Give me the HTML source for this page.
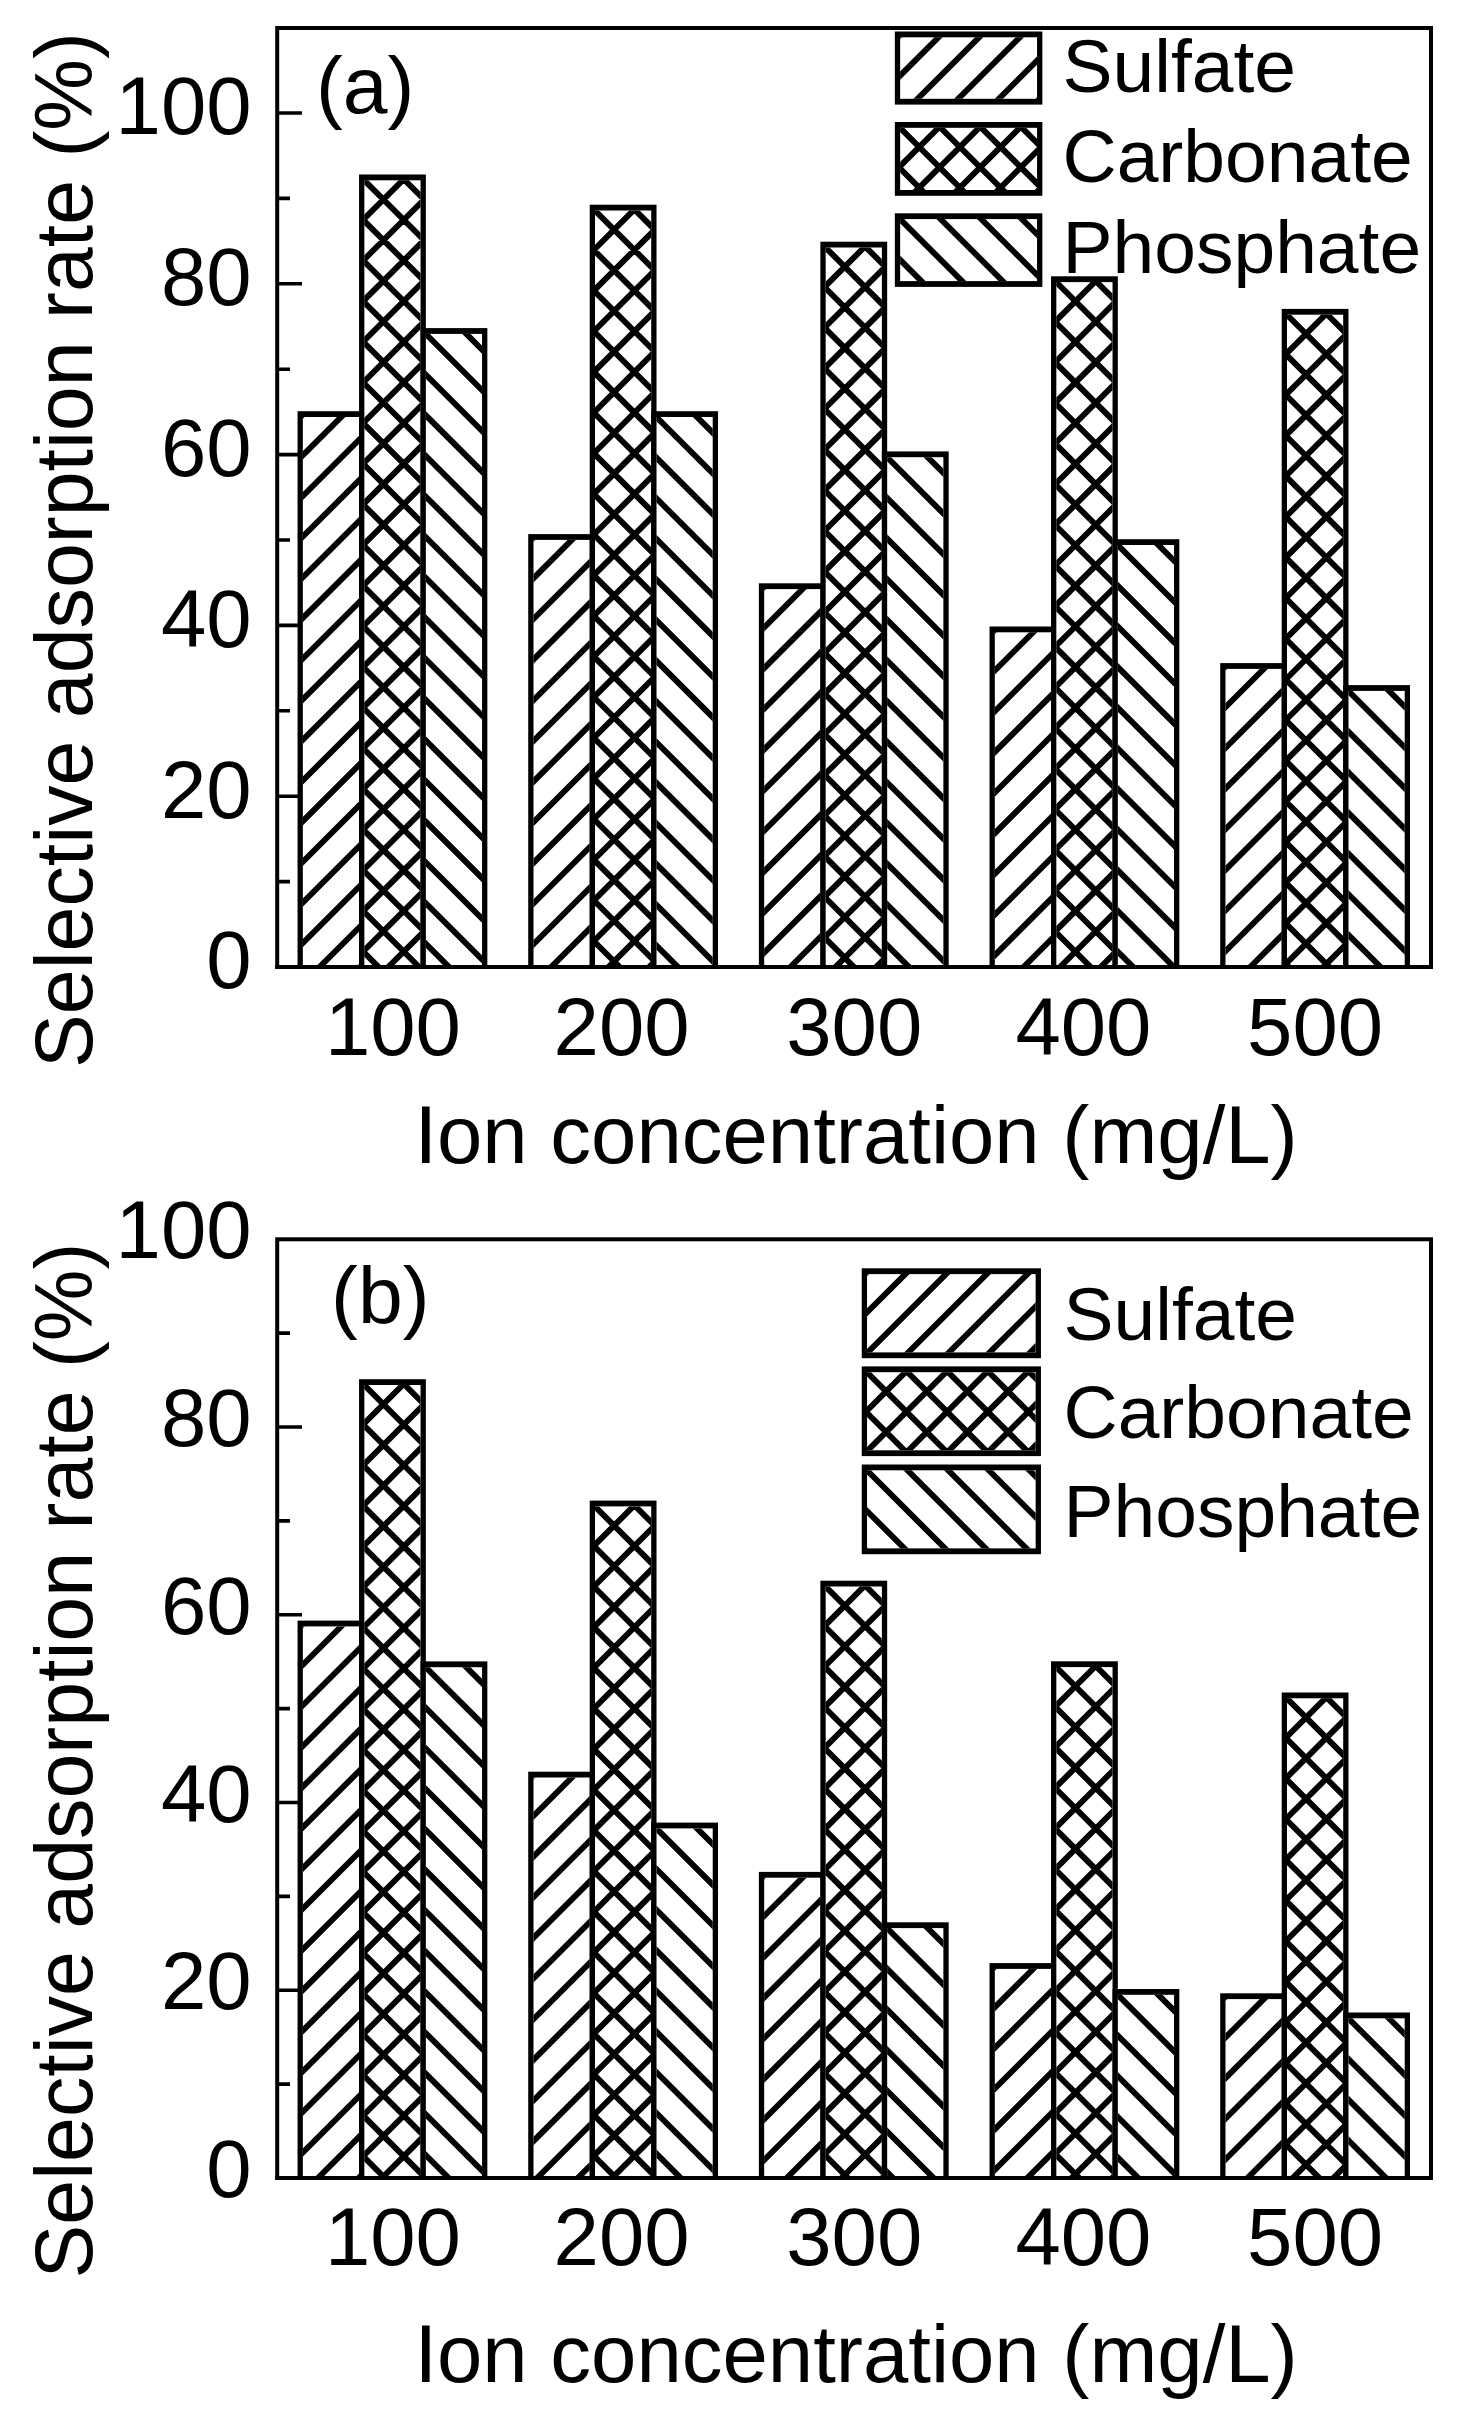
<!DOCTYPE html>
<html lang="en">
<head>
<meta charset="utf-8">
<title>Selective adsorption rate vs ion concentration</title>
<style>
html,body{margin:0;padding:0;background:#fff;}
body{width:1459px;height:2423px;overflow:hidden;}
svg{display:block;}
svg text{font-family:"Liberation Sans", sans-serif;fill:#000;}
</style>
</head>
<body>
<svg width="1459" height="2423" viewBox="0 0 1459 2423">
<rect x="0" y="0" width="1459" height="2423" fill="#fff"/>
<rect x="277.2" y="28" width="1153.8" height="939" fill="none" stroke="#000" stroke-width="4"/>
<path d="M277.2 881.6H290M277.2 796.2H302M277.2 710.8H290M277.2 625.4H302M277.2 540H290M277.2 454.6H302M277.2 369.2H290M277.2 283.8H302M277.2 198.4H290M277.2 113H302" fill="none" stroke="#000" stroke-width="3.6"/>
<text x="251.6" y="988.4" font-size="81.5" text-anchor="end">0</text>
<text x="251.6" y="817.6" font-size="81.5" text-anchor="end">20</text>
<text x="251.6" y="646.8" font-size="81.5" text-anchor="end">40</text>
<text x="251.6" y="476" font-size="81.5" text-anchor="end">60</text>
<text x="251.6" y="305.2" font-size="81.5" text-anchor="end">80</text>
<text x="251.6" y="134.4" font-size="81.5" text-anchor="end">100</text>
<clipPath id="c1"><rect x="302.85" y="417" width="56.2" height="548"/></clipPath>
<rect x="297.55" y="411.2" width="66.8" height="557.8" fill="#000"/>
<rect x="302.85" y="417" width="56.2" height="548" fill="#fff"/>
<path clip-path="url(#c1)" d="M294.2 423.3L367.7 349.8M294.2 463.95L367.7 390.45M294.2 504.6L367.7 431.1M294.2 545.25L367.7 471.75M294.2 585.9L367.7 512.4M294.2 626.55L367.7 553.05M294.2 667.2L367.7 593.7M294.2 707.85L367.7 634.35M294.2 748.5L367.7 675M294.2 789.15L367.7 715.65M294.2 829.8L367.7 756.3M294.2 870.45L367.7 796.95M294.2 911.1L367.7 837.6M294.2 951.75L367.7 878.25M294.2 992.4L367.7 918.9M294.2 1033.05L367.7 959.55" fill="none" stroke="#000" stroke-width="5.9"/>
<clipPath id="c2"><rect x="364.35" y="180.3" width="56.2" height="784.7"/></clipPath>
<rect x="359.05" y="174.5" width="66.8" height="794.5" fill="#000"/>
<rect x="364.35" y="180.3" width="56.2" height="784.7" fill="#fff"/>
<path clip-path="url(#c2)" d="M355.7 186.6L429.2 113.1M355.7 227.25L429.2 153.75M355.7 267.9L429.2 194.4M355.7 308.55L429.2 235.05M355.7 349.2L429.2 275.7M355.7 389.85L429.2 316.35M355.7 430.5L429.2 357M355.7 471.15L429.2 397.65M355.7 511.8L429.2 438.3M355.7 552.45L429.2 478.95M355.7 593.1L429.2 519.6M355.7 633.75L429.2 560.25M355.7 674.4L429.2 600.9M355.7 715.05L429.2 641.55M355.7 755.7L429.2 682.2M355.7 796.35L429.2 722.85M355.7 837L429.2 763.5M355.7 877.65L429.2 804.15M355.7 918.3L429.2 844.8M355.7 958.95L429.2 885.45M355.7 999.6L429.2 926.1M355.7 1040.25L429.2 966.75M355.7 944.15L429.2 1017.65M355.7 903.5L429.2 977M355.7 862.85L429.2 936.35M355.7 822.2L429.2 895.7M355.7 781.55L429.2 855.05M355.7 740.9L429.2 814.4M355.7 700.25L429.2 773.75M355.7 659.6L429.2 733.1M355.7 618.95L429.2 692.45M355.7 578.3L429.2 651.8M355.7 537.65L429.2 611.15M355.7 497L429.2 570.5M355.7 456.35L429.2 529.85M355.7 415.7L429.2 489.2M355.7 375.05L429.2 448.55M355.7 334.4L429.2 407.9M355.7 293.75L429.2 367.25M355.7 253.1L429.2 326.6M355.7 212.45L429.2 285.95M355.7 171.8L429.2 245.3M355.7 131.15L429.2 204.65" fill="none" stroke="#000" stroke-width="5.9"/>
<clipPath id="c3"><rect x="425.85" y="333.9" width="56.2" height="631.1"/></clipPath>
<rect x="420.55" y="328.1" width="66.8" height="640.9" fill="#000"/>
<rect x="425.85" y="333.9" width="56.2" height="631.1" fill="#fff"/>
<path clip-path="url(#c3)" d="M417.2 935.15L490.7 1008.65M417.2 894.5L490.7 968M417.2 853.85L490.7 927.35M417.2 813.2L490.7 886.7M417.2 772.55L490.7 846.05M417.2 731.9L490.7 805.4M417.2 691.25L490.7 764.75M417.2 650.6L490.7 724.1M417.2 609.95L490.7 683.45M417.2 569.3L490.7 642.8M417.2 528.65L490.7 602.15M417.2 488L490.7 561.5M417.2 447.35L490.7 520.85M417.2 406.7L490.7 480.2M417.2 366.05L490.7 439.55M417.2 325.4L490.7 398.9M417.2 284.75L490.7 358.25" fill="none" stroke="#000" stroke-width="5.9"/>
<clipPath id="c4"><rect x="533.51" y="539.9" width="56.2" height="425.1"/></clipPath>
<rect x="528.21" y="534.1" width="66.8" height="434.9" fill="#000"/>
<rect x="533.51" y="539.9" width="56.2" height="425.1" fill="#fff"/>
<path clip-path="url(#c4)" d="M524.86 546.2L598.36 472.7M524.86 586.85L598.36 513.35M524.86 627.5L598.36 554M524.86 668.15L598.36 594.65M524.86 708.8L598.36 635.3M524.86 749.45L598.36 675.95M524.86 790.1L598.36 716.6M524.86 830.75L598.36 757.25M524.86 871.4L598.36 797.9M524.86 912.05L598.36 838.55M524.86 952.7L598.36 879.2M524.86 993.35L598.36 919.85M524.86 1034L598.36 960.5" fill="none" stroke="#000" stroke-width="5.9"/>
<clipPath id="c5"><rect x="595.01" y="210.5" width="56.2" height="754.5"/></clipPath>
<rect x="589.71" y="204.7" width="66.8" height="764.3" fill="#000"/>
<rect x="595.01" y="210.5" width="56.2" height="754.5" fill="#fff"/>
<path clip-path="url(#c5)" d="M586.36 216.8L659.86 143.3M586.36 257.45L659.86 183.95M586.36 298.1L659.86 224.6M586.36 338.75L659.86 265.25M586.36 379.4L659.86 305.9M586.36 420.05L659.86 346.55M586.36 460.7L659.86 387.2M586.36 501.35L659.86 427.85M586.36 542L659.86 468.5M586.36 582.65L659.86 509.15M586.36 623.3L659.86 549.8M586.36 663.95L659.86 590.45M586.36 704.6L659.86 631.1M586.36 745.25L659.86 671.75M586.36 785.9L659.86 712.4M586.36 826.55L659.86 753.05M586.36 867.2L659.86 793.7M586.36 907.85L659.86 834.35M586.36 948.5L659.86 875M586.36 989.15L659.86 915.65M586.36 1029.8L659.86 956.3M586.36 933.7L659.86 1007.2M586.36 893.05L659.86 966.55M586.36 852.4L659.86 925.9M586.36 811.75L659.86 885.25M586.36 771.1L659.86 844.6M586.36 730.45L659.86 803.95M586.36 689.8L659.86 763.3M586.36 649.15L659.86 722.65M586.36 608.5L659.86 682M586.36 567.85L659.86 641.35M586.36 527.2L659.86 600.7M586.36 486.55L659.86 560.05M586.36 445.9L659.86 519.4M586.36 405.25L659.86 478.75M586.36 364.6L659.86 438.1M586.36 323.95L659.86 397.45M586.36 283.3L659.86 356.8M586.36 242.65L659.86 316.15M586.36 202L659.86 275.5M586.36 161.35L659.86 234.85" fill="none" stroke="#000" stroke-width="5.9"/>
<clipPath id="c6"><rect x="656.51" y="417" width="56.2" height="548"/></clipPath>
<rect x="651.21" y="411.2" width="66.8" height="557.8" fill="#000"/>
<rect x="656.51" y="417" width="56.2" height="548" fill="#fff"/>
<path clip-path="url(#c6)" d="M647.86 936.95L721.36 1010.45M647.86 896.3L721.36 969.8M647.86 855.65L721.36 929.15M647.86 815L721.36 888.5M647.86 774.35L721.36 847.85M647.86 733.7L721.36 807.2M647.86 693.05L721.36 766.55M647.86 652.4L721.36 725.9M647.86 611.75L721.36 685.25M647.86 571.1L721.36 644.6M647.86 530.45L721.36 603.95M647.86 489.8L721.36 563.3M647.86 449.15L721.36 522.65M647.86 408.5L721.36 482M647.86 367.85L721.36 441.35" fill="none" stroke="#000" stroke-width="5.9"/>
<clipPath id="c7"><rect x="764.17" y="589.1" width="56.2" height="375.9"/></clipPath>
<rect x="758.87" y="583.3" width="66.8" height="385.7" fill="#000"/>
<rect x="764.17" y="589.1" width="56.2" height="375.9" fill="#fff"/>
<path clip-path="url(#c7)" d="M755.52 595.4L829.02 521.9M755.52 636.05L829.02 562.55M755.52 676.7L829.02 603.2M755.52 717.35L829.02 643.85M755.52 758L829.02 684.5M755.52 798.65L829.02 725.15M755.52 839.3L829.02 765.8M755.52 879.95L829.02 806.45M755.52 920.6L829.02 847.1M755.52 961.25L829.02 887.75M755.52 1001.9L829.02 928.4M755.52 1042.55L829.02 969.05" fill="none" stroke="#000" stroke-width="5.9"/>
<clipPath id="c8"><rect x="825.67" y="247.5" width="56.2" height="717.5"/></clipPath>
<rect x="820.37" y="241.7" width="66.8" height="727.3" fill="#000"/>
<rect x="825.67" y="247.5" width="56.2" height="717.5" fill="#fff"/>
<path clip-path="url(#c8)" d="M817.02 253.8L890.52 180.3M817.02 294.45L890.52 220.95M817.02 335.1L890.52 261.6M817.02 375.75L890.52 302.25M817.02 416.4L890.52 342.9M817.02 457.05L890.52 383.55M817.02 497.7L890.52 424.2M817.02 538.35L890.52 464.85M817.02 579L890.52 505.5M817.02 619.65L890.52 546.15M817.02 660.3L890.52 586.8M817.02 700.95L890.52 627.45M817.02 741.6L890.52 668.1M817.02 782.25L890.52 708.75M817.02 822.9L890.52 749.4M817.02 863.55L890.52 790.05M817.02 904.2L890.52 830.7M817.02 944.85L890.52 871.35M817.02 985.5L890.52 912M817.02 1026.15L890.52 952.65M817.02 970.7L890.52 1044.2M817.02 930.05L890.52 1003.55M817.02 889.4L890.52 962.9M817.02 848.75L890.52 922.25M817.02 808.1L890.52 881.6M817.02 767.45L890.52 840.95M817.02 726.8L890.52 800.3M817.02 686.15L890.52 759.65M817.02 645.5L890.52 719M817.02 604.85L890.52 678.35M817.02 564.2L890.52 637.7M817.02 523.55L890.52 597.05M817.02 482.9L890.52 556.4M817.02 442.25L890.52 515.75M817.02 401.6L890.52 475.1M817.02 360.95L890.52 434.45M817.02 320.3L890.52 393.8M817.02 279.65L890.52 353.15M817.02 239L890.52 312.5M817.02 198.35L890.52 271.85" fill="none" stroke="#000" stroke-width="5.9"/>
<clipPath id="c9"><rect x="887.17" y="457.2" width="56.2" height="507.8"/></clipPath>
<rect x="881.87" y="451.4" width="66.8" height="517.6" fill="#000"/>
<rect x="887.17" y="457.2" width="56.2" height="507.8" fill="#fff"/>
<path clip-path="url(#c9)" d="M878.52 936.5L952.02 1010M878.52 895.85L952.02 969.35M878.52 855.2L952.02 928.7M878.52 814.55L952.02 888.05M878.52 773.9L952.02 847.4M878.52 733.25L952.02 806.75M878.52 692.6L952.02 766.1M878.52 651.95L952.02 725.45M878.52 611.3L952.02 684.8M878.52 570.65L952.02 644.15M878.52 530L952.02 603.5M878.52 489.35L952.02 562.85M878.52 448.7L952.02 522.2M878.52 408.05L952.02 481.55" fill="none" stroke="#000" stroke-width="5.9"/>
<clipPath id="c10"><rect x="994.83" y="632.3" width="56.2" height="332.7"/></clipPath>
<rect x="989.53" y="626.5" width="66.8" height="342.5" fill="#000"/>
<rect x="994.83" y="632.3" width="56.2" height="332.7" fill="#fff"/>
<path clip-path="url(#c10)" d="M986.18 638.6L1059.68 565.1M986.18 679.25L1059.68 605.75M986.18 719.9L1059.68 646.4M986.18 760.55L1059.68 687.05M986.18 801.2L1059.68 727.7M986.18 841.85L1059.68 768.35M986.18 882.5L1059.68 809M986.18 923.15L1059.68 849.65M986.18 963.8L1059.68 890.3M986.18 1004.45L1059.68 930.95" fill="none" stroke="#000" stroke-width="5.9"/>
<clipPath id="c11"><rect x="1056.33" y="282.1" width="56.2" height="682.9"/></clipPath>
<rect x="1051.03" y="276.3" width="66.8" height="692.7" fill="#000"/>
<rect x="1056.33" y="282.1" width="56.2" height="682.9" fill="#fff"/>
<path clip-path="url(#c11)" d="M1047.68 288.4L1121.18 214.9M1047.68 329.05L1121.18 255.55M1047.68 369.7L1121.18 296.2M1047.68 410.35L1121.18 336.85M1047.68 451L1121.18 377.5M1047.68 491.65L1121.18 418.15M1047.68 532.3L1121.18 458.8M1047.68 572.95L1121.18 499.45M1047.68 613.6L1121.18 540.1M1047.68 654.25L1121.18 580.75M1047.68 694.9L1121.18 621.4M1047.68 735.55L1121.18 662.05M1047.68 776.2L1121.18 702.7M1047.68 816.85L1121.18 743.35M1047.68 857.5L1121.18 784M1047.68 898.15L1121.18 824.65M1047.68 938.8L1121.18 865.3M1047.68 979.45L1121.18 905.95M1047.68 1020.1L1121.18 946.6M1047.68 964.65L1121.18 1038.15M1047.68 924L1121.18 997.5M1047.68 883.35L1121.18 956.85M1047.68 842.7L1121.18 916.2M1047.68 802.05L1121.18 875.55M1047.68 761.4L1121.18 834.9M1047.68 720.75L1121.18 794.25M1047.68 680.1L1121.18 753.6M1047.68 639.45L1121.18 712.95M1047.68 598.8L1121.18 672.3M1047.68 558.15L1121.18 631.65M1047.68 517.5L1121.18 591M1047.68 476.85L1121.18 550.35M1047.68 436.2L1121.18 509.7M1047.68 395.55L1121.18 469.05M1047.68 354.9L1121.18 428.4M1047.68 314.25L1121.18 387.75M1047.68 273.6L1121.18 347.1M1047.68 232.95L1121.18 306.45" fill="none" stroke="#000" stroke-width="5.9"/>
<clipPath id="c12"><rect x="1117.83" y="545" width="56.2" height="420"/></clipPath>
<rect x="1112.53" y="539.2" width="66.8" height="429.8" fill="#000"/>
<rect x="1117.83" y="545" width="56.2" height="420" fill="#fff"/>
<path clip-path="url(#c12)" d="M1109.18 943L1182.68 1016.5M1109.18 902.35L1182.68 975.85M1109.18 861.7L1182.68 935.2M1109.18 821.05L1182.68 894.55M1109.18 780.4L1182.68 853.9M1109.18 739.75L1182.68 813.25M1109.18 699.1L1182.68 772.6M1109.18 658.45L1182.68 731.95M1109.18 617.8L1182.68 691.3M1109.18 577.15L1182.68 650.65M1109.18 536.5L1182.68 610M1109.18 495.85L1182.68 569.35" fill="none" stroke="#000" stroke-width="5.9"/>
<clipPath id="c13"><rect x="1225.49" y="668.9" width="56.2" height="296.1"/></clipPath>
<rect x="1220.19" y="663.1" width="66.8" height="305.9" fill="#000"/>
<rect x="1225.49" y="668.9" width="56.2" height="296.1" fill="#fff"/>
<path clip-path="url(#c13)" d="M1216.84 675.2L1290.34 601.7M1216.84 715.85L1290.34 642.35M1216.84 756.5L1290.34 683M1216.84 797.15L1290.34 723.65M1216.84 837.8L1290.34 764.3M1216.84 878.45L1290.34 804.95M1216.84 919.1L1290.34 845.6M1216.84 959.75L1290.34 886.25M1216.84 1000.4L1290.34 926.9M1216.84 1041.05L1290.34 967.55" fill="none" stroke="#000" stroke-width="5.9"/>
<clipPath id="c14"><rect x="1286.99" y="314.7" width="56.2" height="650.3"/></clipPath>
<rect x="1281.69" y="308.9" width="66.8" height="660.1" fill="#000"/>
<rect x="1286.99" y="314.7" width="56.2" height="650.3" fill="#fff"/>
<path clip-path="url(#c14)" d="M1278.34 321L1351.84 247.5M1278.34 361.65L1351.84 288.15M1278.34 402.3L1351.84 328.8M1278.34 442.95L1351.84 369.45M1278.34 483.6L1351.84 410.1M1278.34 524.25L1351.84 450.75M1278.34 564.9L1351.84 491.4M1278.34 605.55L1351.84 532.05M1278.34 646.2L1351.84 572.7M1278.34 686.85L1351.84 613.35M1278.34 727.5L1351.84 654M1278.34 768.15L1351.84 694.65M1278.34 808.8L1351.84 735.3M1278.34 849.45L1351.84 775.95M1278.34 890.1L1351.84 816.6M1278.34 930.75L1351.84 857.25M1278.34 971.4L1351.84 897.9M1278.34 1012.05L1351.84 938.55M1278.34 956.6L1351.84 1030.1M1278.34 915.95L1351.84 989.45M1278.34 875.3L1351.84 948.8M1278.34 834.65L1351.84 908.15M1278.34 794L1351.84 867.5M1278.34 753.35L1351.84 826.85M1278.34 712.7L1351.84 786.2M1278.34 672.05L1351.84 745.55M1278.34 631.4L1351.84 704.9M1278.34 590.75L1351.84 664.25M1278.34 550.1L1351.84 623.6M1278.34 509.45L1351.84 582.95M1278.34 468.8L1351.84 542.3M1278.34 428.15L1351.84 501.65M1278.34 387.5L1351.84 461M1278.34 346.85L1351.84 420.35M1278.34 306.2L1351.84 379.7M1278.34 265.55L1351.84 339.05" fill="none" stroke="#000" stroke-width="5.9"/>
<clipPath id="c15"><rect x="1348.49" y="690.9" width="56.2" height="274.1"/></clipPath>
<rect x="1343.19" y="685.1" width="66.8" height="283.9" fill="#000"/>
<rect x="1348.49" y="690.9" width="56.2" height="274.1" fill="#fff"/>
<path clip-path="url(#c15)" d="M1339.84 966.95L1413.34 1040.45M1339.84 926.3L1413.34 999.8M1339.84 885.65L1413.34 959.15M1339.84 845L1413.34 918.5M1339.84 804.35L1413.34 877.85M1339.84 763.7L1413.34 837.2M1339.84 723.05L1413.34 796.55M1339.84 682.4L1413.34 755.9M1339.84 641.75L1413.34 715.25" fill="none" stroke="#000" stroke-width="5.9"/>
<path d="M275.2 967H1433" fill="none" stroke="#000" stroke-width="4"/>
<text x="392.95" y="1054.8" font-size="81.5" text-anchor="middle">100</text>
<text x="621.61" y="1054.8" font-size="81.5" text-anchor="middle">200</text>
<text x="854.27" y="1054.8" font-size="81.5" text-anchor="middle">300</text>
<text x="1083.43" y="1054.8" font-size="81.5" text-anchor="middle">400</text>
<text x="1315.09" y="1054.8" font-size="81.5" text-anchor="middle">500</text>
<text x="414.4" y="1163.3" font-size="81.5" text-anchor="start">Ion concentration (mg/L)</text>
<text x="92" y="1068" font-size="80.7" text-anchor="start" transform="rotate(-90 92 1068)">Selective adsorption rate (%)</text>
<text x="316" y="113" font-size="80.5" text-anchor="start">(a)</text>
<clipPath id="c16"><rect x="900.15" y="37.3" width="136.9" height="61.5"/></clipPath>
<rect x="894.85" y="31.5" width="147.5" height="73.1" fill="#000"/>
<rect x="900.15" y="37.3" width="136.9" height="61.5" fill="#fff"/>
<path clip-path="url(#c16)" d="M891.5 43.6L1045.7 -110.6M891.5 84.25L1045.7 -69.95M891.5 124.9L1045.7 -29.3M891.5 165.55L1045.7 11.35M891.5 206.2L1045.7 52M891.5 246.85L1045.7 92.65" fill="none" stroke="#000" stroke-width="5.9"/>
<text x="1062.5" y="92" font-size="75" text-anchor="start">Sulfate</text>
<clipPath id="c17"><rect x="900.15" y="127.8" width="136.9" height="62.2"/></clipPath>
<rect x="894.85" y="122" width="147.5" height="73.8" fill="#000"/>
<rect x="900.15" y="127.8" width="136.9" height="62.2" fill="#fff"/>
<path clip-path="url(#c17)" d="M891.5 134.1L1045.7 -20.1M891.5 174.75L1045.7 20.55M891.5 215.4L1045.7 61.2M891.5 256.05L1045.7 101.85M891.5 296.7L1045.7 142.5M891.5 337.35L1045.7 183.15M891.5 159.95L1045.7 314.15M891.5 119.3L1045.7 273.5M891.5 78.65L1045.7 232.85M891.5 38L1045.7 192.2M891.5 -2.65L1045.7 151.55" fill="none" stroke="#000" stroke-width="5.9"/>
<text x="1062.5" y="182" font-size="75" text-anchor="start">Carbonate</text>
<clipPath id="c18"><rect x="900.15" y="219.1" width="136.9" height="62"/></clipPath>
<rect x="894.85" y="213.3" width="147.5" height="73.6" fill="#000"/>
<rect x="900.15" y="219.1" width="136.9" height="62" fill="#fff"/>
<path clip-path="url(#c18)" d="M891.5 251.25L1045.7 405.45M891.5 210.6L1045.7 364.8M891.5 169.95L1045.7 324.15M891.5 129.3L1045.7 283.5M891.5 88.65L1045.7 242.85" fill="none" stroke="#000" stroke-width="5.9"/>
<text x="1062.5" y="272.9" font-size="75" text-anchor="start">Phosphate</text>
<rect x="277.2" y="1239.3" width="1153.8" height="938.7" fill="none" stroke="#000" stroke-width="4"/>
<path d="M277.2 2084.13H290M277.2 1990.26H302M277.2 1896.39H290M277.2 1802.52H302M277.2 1708.65H290M277.2 1614.78H302M277.2 1520.91H290M277.2 1427.04H302M277.2 1333.17H290" fill="none" stroke="#000" stroke-width="3.6"/>
<text x="251.6" y="2197" font-size="81.5" text-anchor="end">0</text>
<text x="251.6" y="2009.26" font-size="81.5" text-anchor="end">20</text>
<text x="251.6" y="1821.52" font-size="81.5" text-anchor="end">40</text>
<text x="251.6" y="1633.78" font-size="81.5" text-anchor="end">60</text>
<text x="251.6" y="1446.04" font-size="81.5" text-anchor="end">80</text>
<text x="251.6" y="1258.3" font-size="81.5" text-anchor="end">100</text>
<clipPath id="c19"><rect x="302.85" y="1626.4" width="56.2" height="549.6"/></clipPath>
<rect x="297.55" y="1620.6" width="66.8" height="559.4" fill="#000"/>
<rect x="302.85" y="1626.4" width="56.2" height="549.6" fill="#fff"/>
<path clip-path="url(#c19)" d="M294.2 1632.7L367.7 1559.2M294.2 1673.35L367.7 1599.85M294.2 1714L367.7 1640.5M294.2 1754.65L367.7 1681.15M294.2 1795.3L367.7 1721.8M294.2 1835.95L367.7 1762.45M294.2 1876.6L367.7 1803.1M294.2 1917.25L367.7 1843.75M294.2 1957.9L367.7 1884.4M294.2 1998.55L367.7 1925.05M294.2 2039.2L367.7 1965.7M294.2 2079.85L367.7 2006.35M294.2 2120.5L367.7 2047M294.2 2161.15L367.7 2087.65M294.2 2201.8L367.7 2128.3M294.2 2242.45L367.7 2168.95" fill="none" stroke="#000" stroke-width="5.9"/>
<clipPath id="c20"><rect x="364.35" y="1385" width="56.2" height="791"/></clipPath>
<rect x="359.05" y="1379.2" width="66.8" height="800.8" fill="#000"/>
<rect x="364.35" y="1385" width="56.2" height="791" fill="#fff"/>
<path clip-path="url(#c20)" d="M355.7 1391.3L429.2 1317.8M355.7 1431.95L429.2 1358.45M355.7 1472.6L429.2 1399.1M355.7 1513.25L429.2 1439.75M355.7 1553.9L429.2 1480.4M355.7 1594.55L429.2 1521.05M355.7 1635.2L429.2 1561.7M355.7 1675.85L429.2 1602.35M355.7 1716.5L429.2 1643M355.7 1757.15L429.2 1683.65M355.7 1797.8L429.2 1724.3M355.7 1838.45L429.2 1764.95M355.7 1879.1L429.2 1805.6M355.7 1919.75L429.2 1846.25M355.7 1960.4L429.2 1886.9M355.7 2001.05L429.2 1927.55M355.7 2041.7L429.2 1968.2M355.7 2082.35L429.2 2008.85M355.7 2123L429.2 2049.5M355.7 2163.65L429.2 2090.15M355.7 2204.3L429.2 2130.8M355.7 2244.95L429.2 2171.45M355.7 2148.85L429.2 2222.35M355.7 2108.2L429.2 2181.7M355.7 2067.55L429.2 2141.05M355.7 2026.9L429.2 2100.4M355.7 1986.25L429.2 2059.75M355.7 1945.6L429.2 2019.1M355.7 1904.95L429.2 1978.45M355.7 1864.3L429.2 1937.8M355.7 1823.65L429.2 1897.15M355.7 1783L429.2 1856.5M355.7 1742.35L429.2 1815.85M355.7 1701.7L429.2 1775.2M355.7 1661.05L429.2 1734.55M355.7 1620.4L429.2 1693.9M355.7 1579.75L429.2 1653.25M355.7 1539.1L429.2 1612.6M355.7 1498.45L429.2 1571.95M355.7 1457.8L429.2 1531.3M355.7 1417.15L429.2 1490.65M355.7 1376.5L429.2 1450M355.7 1335.85L429.2 1409.35" fill="none" stroke="#000" stroke-width="5.9"/>
<clipPath id="c21"><rect x="425.85" y="1667.2" width="56.2" height="508.8"/></clipPath>
<rect x="420.55" y="1661.4" width="66.8" height="518.6" fill="#000"/>
<rect x="425.85" y="1667.2" width="56.2" height="508.8" fill="#fff"/>
<path clip-path="url(#c21)" d="M417.2 2146.5L490.7 2220M417.2 2105.85L490.7 2179.35M417.2 2065.2L490.7 2138.7M417.2 2024.55L490.7 2098.05M417.2 1983.9L490.7 2057.4M417.2 1943.25L490.7 2016.75M417.2 1902.6L490.7 1976.1M417.2 1861.95L490.7 1935.45M417.2 1821.3L490.7 1894.8M417.2 1780.65L490.7 1854.15M417.2 1740L490.7 1813.5M417.2 1699.35L490.7 1772.85M417.2 1658.7L490.7 1732.2M417.2 1618.05L490.7 1691.55" fill="none" stroke="#000" stroke-width="5.9"/>
<clipPath id="c22"><rect x="533.51" y="1777.5" width="56.2" height="398.5"/></clipPath>
<rect x="528.21" y="1771.7" width="66.8" height="408.3" fill="#000"/>
<rect x="533.51" y="1777.5" width="56.2" height="398.5" fill="#fff"/>
<path clip-path="url(#c22)" d="M524.86 1783.8L598.36 1710.3M524.86 1824.45L598.36 1750.95M524.86 1865.1L598.36 1791.6M524.86 1905.75L598.36 1832.25M524.86 1946.4L598.36 1872.9M524.86 1987.05L598.36 1913.55M524.86 2027.7L598.36 1954.2M524.86 2068.35L598.36 1994.85M524.86 2109L598.36 2035.5M524.86 2149.65L598.36 2076.15M524.86 2190.3L598.36 2116.8M524.86 2230.95L598.36 2157.45" fill="none" stroke="#000" stroke-width="5.9"/>
<clipPath id="c23"><rect x="595.01" y="1506.4" width="56.2" height="669.6"/></clipPath>
<rect x="589.71" y="1500.6" width="66.8" height="679.4" fill="#000"/>
<rect x="595.01" y="1506.4" width="56.2" height="669.6" fill="#fff"/>
<path clip-path="url(#c23)" d="M586.36 1512.7L659.86 1439.2M586.36 1553.35L659.86 1479.85M586.36 1594L659.86 1520.5M586.36 1634.65L659.86 1561.15M586.36 1675.3L659.86 1601.8M586.36 1715.95L659.86 1642.45M586.36 1756.6L659.86 1683.1M586.36 1797.25L659.86 1723.75M586.36 1837.9L659.86 1764.4M586.36 1878.55L659.86 1805.05M586.36 1919.2L659.86 1845.7M586.36 1959.85L659.86 1886.35M586.36 2000.5L659.86 1927M586.36 2041.15L659.86 1967.65M586.36 2081.8L659.86 2008.3M586.36 2122.45L659.86 2048.95M586.36 2163.1L659.86 2089.6M586.36 2203.75L659.86 2130.25M586.36 2244.4L659.86 2170.9M586.36 2148.3L659.86 2221.8M586.36 2107.65L659.86 2181.15M586.36 2067L659.86 2140.5M586.36 2026.35L659.86 2099.85M586.36 1985.7L659.86 2059.2M586.36 1945.05L659.86 2018.55M586.36 1904.4L659.86 1977.9M586.36 1863.75L659.86 1937.25M586.36 1823.1L659.86 1896.6M586.36 1782.45L659.86 1855.95M586.36 1741.8L659.86 1815.3M586.36 1701.15L659.86 1774.65M586.36 1660.5L659.86 1734M586.36 1619.85L659.86 1693.35M586.36 1579.2L659.86 1652.7M586.36 1538.55L659.86 1612.05M586.36 1497.9L659.86 1571.4M586.36 1457.25L659.86 1530.75" fill="none" stroke="#000" stroke-width="5.9"/>
<clipPath id="c24"><rect x="656.51" y="1828.4" width="56.2" height="347.6"/></clipPath>
<rect x="651.21" y="1822.6" width="66.8" height="357.4" fill="#000"/>
<rect x="656.51" y="1828.4" width="56.2" height="347.6" fill="#fff"/>
<path clip-path="url(#c24)" d="M647.86 2145.1L721.36 2218.6M647.86 2104.45L721.36 2177.95M647.86 2063.8L721.36 2137.3M647.86 2023.15L721.36 2096.65M647.86 1982.5L721.36 2056M647.86 1941.85L721.36 2015.35M647.86 1901.2L721.36 1974.7M647.86 1860.55L721.36 1934.05M647.86 1819.9L721.36 1893.4M647.86 1779.25L721.36 1852.75" fill="none" stroke="#000" stroke-width="5.9"/>
<clipPath id="c25"><rect x="764.17" y="1877.7" width="56.2" height="298.3"/></clipPath>
<rect x="758.87" y="1871.9" width="66.8" height="308.1" fill="#000"/>
<rect x="764.17" y="1877.7" width="56.2" height="298.3" fill="#fff"/>
<path clip-path="url(#c25)" d="M755.52 1884L829.02 1810.5M755.52 1924.65L829.02 1851.15M755.52 1965.3L829.02 1891.8M755.52 2005.95L829.02 1932.45M755.52 2046.6L829.02 1973.1M755.52 2087.25L829.02 2013.75M755.52 2127.9L829.02 2054.4M755.52 2168.55L829.02 2095.05M755.52 2209.2L829.02 2135.7M755.52 2249.85L829.02 2176.35" fill="none" stroke="#000" stroke-width="5.9"/>
<clipPath id="c26"><rect x="825.67" y="1586.5" width="56.2" height="589.5"/></clipPath>
<rect x="820.37" y="1580.7" width="66.8" height="599.3" fill="#000"/>
<rect x="825.67" y="1586.5" width="56.2" height="589.5" fill="#fff"/>
<path clip-path="url(#c26)" d="M817.02 1592.8L890.52 1519.3M817.02 1633.45L890.52 1559.95M817.02 1674.1L890.52 1600.6M817.02 1714.75L890.52 1641.25M817.02 1755.4L890.52 1681.9M817.02 1796.05L890.52 1722.55M817.02 1836.7L890.52 1763.2M817.02 1877.35L890.52 1803.85M817.02 1918L890.52 1844.5M817.02 1958.65L890.52 1885.15M817.02 1999.3L890.52 1925.8M817.02 2039.95L890.52 1966.45M817.02 2080.6L890.52 2007.1M817.02 2121.25L890.52 2047.75M817.02 2161.9L890.52 2088.4M817.02 2202.55L890.52 2129.05M817.02 2243.2L890.52 2169.7M817.02 2147.1L890.52 2220.6M817.02 2106.45L890.52 2179.95M817.02 2065.8L890.52 2139.3M817.02 2025.15L890.52 2098.65M817.02 1984.5L890.52 2058M817.02 1943.85L890.52 2017.35M817.02 1903.2L890.52 1976.7M817.02 1862.55L890.52 1936.05M817.02 1821.9L890.52 1895.4M817.02 1781.25L890.52 1854.75M817.02 1740.6L890.52 1814.1M817.02 1699.95L890.52 1773.45M817.02 1659.3L890.52 1732.8M817.02 1618.65L890.52 1692.15M817.02 1578L890.52 1651.5M817.02 1537.35L890.52 1610.85" fill="none" stroke="#000" stroke-width="5.9"/>
<clipPath id="c27"><rect x="887.17" y="1928.1" width="56.2" height="247.9"/></clipPath>
<rect x="881.87" y="1922.3" width="66.8" height="257.7" fill="#000"/>
<rect x="887.17" y="1928.1" width="56.2" height="247.9" fill="#fff"/>
<path clip-path="url(#c27)" d="M878.52 2163.5L952.02 2237M878.52 2122.85L952.02 2196.35M878.52 2082.2L952.02 2155.7M878.52 2041.55L952.02 2115.05M878.52 2000.9L952.02 2074.4M878.52 1960.25L952.02 2033.75M878.52 1919.6L952.02 1993.1M878.52 1878.95L952.02 1952.45" fill="none" stroke="#000" stroke-width="5.9"/>
<clipPath id="c28"><rect x="994.83" y="1968.9" width="56.2" height="207.1"/></clipPath>
<rect x="989.53" y="1963.1" width="66.8" height="216.9" fill="#000"/>
<rect x="994.83" y="1968.9" width="56.2" height="207.1" fill="#fff"/>
<path clip-path="url(#c28)" d="M986.18 1975.2L1059.68 1901.7M986.18 2015.85L1059.68 1942.35M986.18 2056.5L1059.68 1983M986.18 2097.15L1059.68 2023.65M986.18 2137.8L1059.68 2064.3M986.18 2178.45L1059.68 2104.95M986.18 2219.1L1059.68 2145.6" fill="none" stroke="#000" stroke-width="5.9"/>
<clipPath id="c29"><rect x="1056.33" y="1667.1" width="56.2" height="508.9"/></clipPath>
<rect x="1051.03" y="1661.3" width="66.8" height="518.7" fill="#000"/>
<rect x="1056.33" y="1667.1" width="56.2" height="508.9" fill="#fff"/>
<path clip-path="url(#c29)" d="M1047.68 1673.4L1121.18 1599.9M1047.68 1714.05L1121.18 1640.55M1047.68 1754.7L1121.18 1681.2M1047.68 1795.35L1121.18 1721.85M1047.68 1836L1121.18 1762.5M1047.68 1876.65L1121.18 1803.15M1047.68 1917.3L1121.18 1843.8M1047.68 1957.95L1121.18 1884.45M1047.68 1998.6L1121.18 1925.1M1047.68 2039.25L1121.18 1965.75M1047.68 2079.9L1121.18 2006.4M1047.68 2120.55L1121.18 2047.05M1047.68 2161.2L1121.18 2087.7M1047.68 2201.85L1121.18 2128.35M1047.68 2242.5L1121.18 2169M1047.68 2146.4L1121.18 2219.9M1047.68 2105.75L1121.18 2179.25M1047.68 2065.1L1121.18 2138.6M1047.68 2024.45L1121.18 2097.95M1047.68 1983.8L1121.18 2057.3M1047.68 1943.15L1121.18 2016.65M1047.68 1902.5L1121.18 1976M1047.68 1861.85L1121.18 1935.35M1047.68 1821.2L1121.18 1894.7M1047.68 1780.55L1121.18 1854.05M1047.68 1739.9L1121.18 1813.4M1047.68 1699.25L1121.18 1772.75M1047.68 1658.6L1121.18 1732.1M1047.68 1617.95L1121.18 1691.45" fill="none" stroke="#000" stroke-width="5.9"/>
<clipPath id="c30"><rect x="1117.83" y="1994.8" width="56.2" height="181.2"/></clipPath>
<rect x="1112.53" y="1989" width="66.8" height="191" fill="#000"/>
<rect x="1117.83" y="1994.8" width="56.2" height="181.2" fill="#fff"/>
<path clip-path="url(#c30)" d="M1109.18 2148.9L1182.68 2222.4M1109.18 2108.25L1182.68 2181.75M1109.18 2067.6L1182.68 2141.1M1109.18 2026.95L1182.68 2100.45M1109.18 1986.3L1182.68 2059.8M1109.18 1945.65L1182.68 2019.15" fill="none" stroke="#000" stroke-width="5.9"/>
<clipPath id="c31"><rect x="1225.49" y="1999.1" width="56.2" height="176.9"/></clipPath>
<rect x="1220.19" y="1993.3" width="66.8" height="186.7" fill="#000"/>
<rect x="1225.49" y="1999.1" width="56.2" height="176.9" fill="#fff"/>
<path clip-path="url(#c31)" d="M1216.84 2005.4L1290.34 1931.9M1216.84 2046.05L1290.34 1972.55M1216.84 2086.7L1290.34 2013.2M1216.84 2127.35L1290.34 2053.85M1216.84 2168L1290.34 2094.5M1216.84 2208.65L1290.34 2135.15M1216.84 2249.3L1290.34 2175.8" fill="none" stroke="#000" stroke-width="5.9"/>
<clipPath id="c32"><rect x="1286.99" y="1698.3" width="56.2" height="477.7"/></clipPath>
<rect x="1281.69" y="1692.5" width="66.8" height="487.5" fill="#000"/>
<rect x="1286.99" y="1698.3" width="56.2" height="477.7" fill="#fff"/>
<path clip-path="url(#c32)" d="M1278.34 1704.6L1351.84 1631.1M1278.34 1745.25L1351.84 1671.75M1278.34 1785.9L1351.84 1712.4M1278.34 1826.55L1351.84 1753.05M1278.34 1867.2L1351.84 1793.7M1278.34 1907.85L1351.84 1834.35M1278.34 1948.5L1351.84 1875M1278.34 1989.15L1351.84 1915.65M1278.34 2029.8L1351.84 1956.3M1278.34 2070.45L1351.84 1996.95M1278.34 2111.1L1351.84 2037.6M1278.34 2151.75L1351.84 2078.25M1278.34 2192.4L1351.84 2118.9M1278.34 2233.05L1351.84 2159.55M1278.34 2177.6L1351.84 2251.1M1278.34 2136.95L1351.84 2210.45M1278.34 2096.3L1351.84 2169.8M1278.34 2055.65L1351.84 2129.15M1278.34 2015L1351.84 2088.5M1278.34 1974.35L1351.84 2047.85M1278.34 1933.7L1351.84 2007.2M1278.34 1893.05L1351.84 1966.55M1278.34 1852.4L1351.84 1925.9M1278.34 1811.75L1351.84 1885.25M1278.34 1771.1L1351.84 1844.6M1278.34 1730.45L1351.84 1803.95M1278.34 1689.8L1351.84 1763.3M1278.34 1649.15L1351.84 1722.65" fill="none" stroke="#000" stroke-width="5.9"/>
<clipPath id="c33"><rect x="1348.49" y="2018.3" width="56.2" height="157.7"/></clipPath>
<rect x="1343.19" y="2012.5" width="66.8" height="167.5" fill="#000"/>
<rect x="1348.49" y="2018.3" width="56.2" height="157.7" fill="#fff"/>
<path clip-path="url(#c33)" d="M1339.84 2172.4L1413.34 2245.9M1339.84 2131.75L1413.34 2205.25M1339.84 2091.1L1413.34 2164.6M1339.84 2050.45L1413.34 2123.95M1339.84 2009.8L1413.34 2083.3M1339.84 1969.15L1413.34 2042.65" fill="none" stroke="#000" stroke-width="5.9"/>
<path d="M275.2 2178H1433" fill="none" stroke="#000" stroke-width="4"/>
<text x="392.95" y="2264.8" font-size="81.5" text-anchor="middle">100</text>
<text x="621.61" y="2264.8" font-size="81.5" text-anchor="middle">200</text>
<text x="854.27" y="2264.8" font-size="81.5" text-anchor="middle">300</text>
<text x="1083.43" y="2264.8" font-size="81.5" text-anchor="middle">400</text>
<text x="1315.09" y="2264.8" font-size="81.5" text-anchor="middle">500</text>
<text x="414.4" y="2382.1" font-size="81.5" text-anchor="start">Ion concentration (mg/L)</text>
<text x="92" y="2278.5" font-size="80.7" text-anchor="start" transform="rotate(-90 92 2278.5)">Selective adsorption rate (%)</text>
<text x="331.1" y="1322.5" font-size="80.5" text-anchor="start">(b)</text>
<clipPath id="c34"><rect x="867.05" y="1274.1" width="168.6" height="78.3"/></clipPath>
<rect x="861.75" y="1268.3" width="179.2" height="89.9" fill="#000"/>
<rect x="867.05" y="1274.1" width="168.6" height="78.3" fill="#fff"/>
<path clip-path="url(#c34)" d="M858.4 1280.4L1044.3 1094.5M858.4 1321.05L1044.3 1135.15M858.4 1361.7L1044.3 1175.8M858.4 1402.35L1044.3 1216.45M858.4 1443L1044.3 1257.1M858.4 1483.65L1044.3 1297.75M858.4 1524.3L1044.3 1338.4" fill="none" stroke="#000" stroke-width="5.9"/>
<text x="1063.5" y="1340" font-size="75" text-anchor="start">Sulfate</text>
<clipPath id="c35"><rect x="867.05" y="1372.2" width="168.6" height="78.1"/></clipPath>
<rect x="861.75" y="1366.4" width="179.2" height="89.7" fill="#000"/>
<rect x="867.05" y="1372.2" width="168.6" height="78.1" fill="#fff"/>
<path clip-path="url(#c35)" d="M858.4 1378.5L1044.3 1192.6M858.4 1419.15L1044.3 1233.25M858.4 1459.8L1044.3 1273.9M858.4 1500.45L1044.3 1314.55M858.4 1541.1L1044.3 1355.2M858.4 1581.75L1044.3 1395.85M858.4 1622.4L1044.3 1436.5M858.4 1445L1044.3 1630.9M858.4 1404.35L1044.3 1590.25M858.4 1363.7L1044.3 1549.6M858.4 1323.05L1044.3 1508.95M858.4 1282.4L1044.3 1468.3M858.4 1241.75L1044.3 1427.65M858.4 1201.1L1044.3 1387" fill="none" stroke="#000" stroke-width="5.9"/>
<text x="1063.5" y="1438.3" font-size="75" text-anchor="start">Carbonate</text>
<clipPath id="c36"><rect x="867.05" y="1470.3" width="168.6" height="78.1"/></clipPath>
<rect x="861.75" y="1464.5" width="179.2" height="89.7" fill="#000"/>
<rect x="867.05" y="1470.3" width="168.6" height="78.1" fill="#fff"/>
<path clip-path="url(#c36)" d="M858.4 1543.1L1044.3 1729M858.4 1502.45L1044.3 1688.35M858.4 1461.8L1044.3 1647.7M858.4 1421.15L1044.3 1607.05M858.4 1380.5L1044.3 1566.4M858.4 1339.85L1044.3 1525.75M858.4 1299.2L1044.3 1485.1" fill="none" stroke="#000" stroke-width="5.9"/>
<text x="1063.5" y="1537" font-size="75" text-anchor="start">Phosphate</text>
</svg>
</body>
</html>
